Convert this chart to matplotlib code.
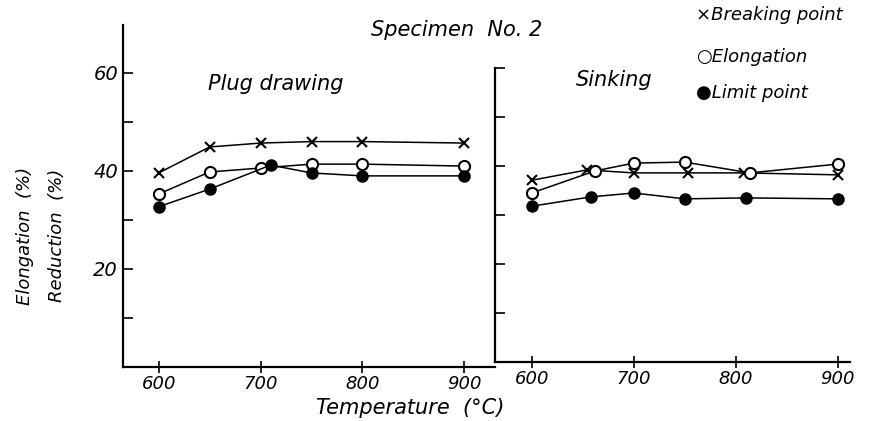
import matplotlib
matplotlib.use("Agg")
import matplotlib.pyplot as plt

# Plug drawing panel
plug_break_x = [600, 650, 700, 750, 800, 900]
plug_break_y = [39.6, 44.9, 45.7, 46.0, 46.0, 45.7]
plug_elong_x = [600, 650, 700, 750, 800, 900]
plug_elong_y = [35.3, 39.8, 40.6, 41.4, 41.4, 41.0]
plug_limit_x = [600, 650, 710, 750, 800, 900]
plug_limit_y = [32.7, 36.3, 41.2, 39.6, 39.0, 39.0]

# Sinking panel
sink_break_x = [600, 654, 700, 753, 808, 900]
sink_break_y = [37.1, 39.2, 38.6, 38.6, 38.6, 38.2]
sink_elong_x = [600, 662, 700, 750, 814, 900]
sink_elong_y = [34.5, 39.0, 40.6, 40.8, 38.6, 40.4]
sink_limit_x = [600, 658, 700, 750, 810, 900]
sink_limit_y = [31.8, 33.7, 34.5, 33.3, 33.5, 33.3]

temp_ticks = [600, 700, 800, 900]
hand = dict(style="italic", family="DejaVu Sans")

fig = plt.figure(figsize=(8.95, 4.21), dpi=100)
ax1 = fig.add_axes([0.1374, 0.1283, 0.4156, 0.8124])
ax2 = fig.add_axes([0.5531, 0.1401, 0.3966, 0.6983])


def draw(ax, bx, by, ex, ey, lx, ly):
    ax.plot(bx, by, color="black", lw=1.1, marker="x", ms=7, mew=1.5)
    ax.plot(ex, ey, color="black", lw=1.1, marker="o", ms=8,
            mfc="white", mec="black", mew=1.5)
    ax.plot(lx, ly, color="black", lw=1.1, marker="o", ms=8,
            mfc="black", mec="black")
    for s in ["top", "right"]:
        ax.spines[s].set_visible(False)
    for s in ["left", "bottom"]:
        ax.spines[s].set_linewidth(1.6)
    ax.set_xticks(temp_ticks)
    ax.set_xticklabels([str(t) for t in temp_ticks], fontsize=13, **hand)
    ax.tick_params(axis="x", direction="inout", length=8, width=1.2, pad=2)
    ax.tick_params(axis="y", direction="in", length=7, width=1.2)


draw(ax1, plug_break_x, plug_break_y, plug_elong_x, plug_elong_y,
     plug_limit_x, plug_limit_y)
ax1.set_xlim(565, 930)
ax1.set_ylim(0, 69.8)
ax1.set_yticks([10, 20, 30, 40, 50, 60])
ax1.set_yticklabels(["", "20", "", "40", "", "60"], fontsize=14, **hand)

draw(ax2, sink_break_x, sink_break_y, sink_elong_x, sink_elong_y,
     sink_limit_x, sink_limit_y)
ax2.set_xlim(564, 912)
ax2.set_ylim(0, 60)
ax2.set_yticks([10, 20, 30, 40, 50, 60])
ax2.set_yticklabels([])

fig.text(0.308, 0.80, "Plug drawing", fontsize=15, ha="center", va="center", **hand)
fig.text(0.686, 0.81, "Sinking", fontsize=15, ha="center", va="center", **hand)
fig.text(0.510, 0.928, "Specimen  No. 2", fontsize=15, ha="center", va="center", **hand)

fig.text(0.778, 0.965, "×Breaking point", fontsize=13, ha="left", va="center", **hand)
fig.text(0.778, 0.865, "○Elongation", fontsize=13, ha="left", va="center", **hand)
fig.text(0.778, 0.778, "●Limit point", fontsize=13, ha="left", va="center", **hand)

fig.text(0.028, 0.44, "Elongation  (%)", fontsize=13, rotation=90,
         ha="center", va="center", **hand)
fig.text(0.064, 0.44, "Reduction  (%)", fontsize=13, rotation=90,
         ha="center", va="center", **hand)
fig.text(0.458, 0.03, "Temperature  (°C)", fontsize=15, ha="center",
         va="center", **hand)

fig.savefig("out.png", dpi=100, facecolor="white")
